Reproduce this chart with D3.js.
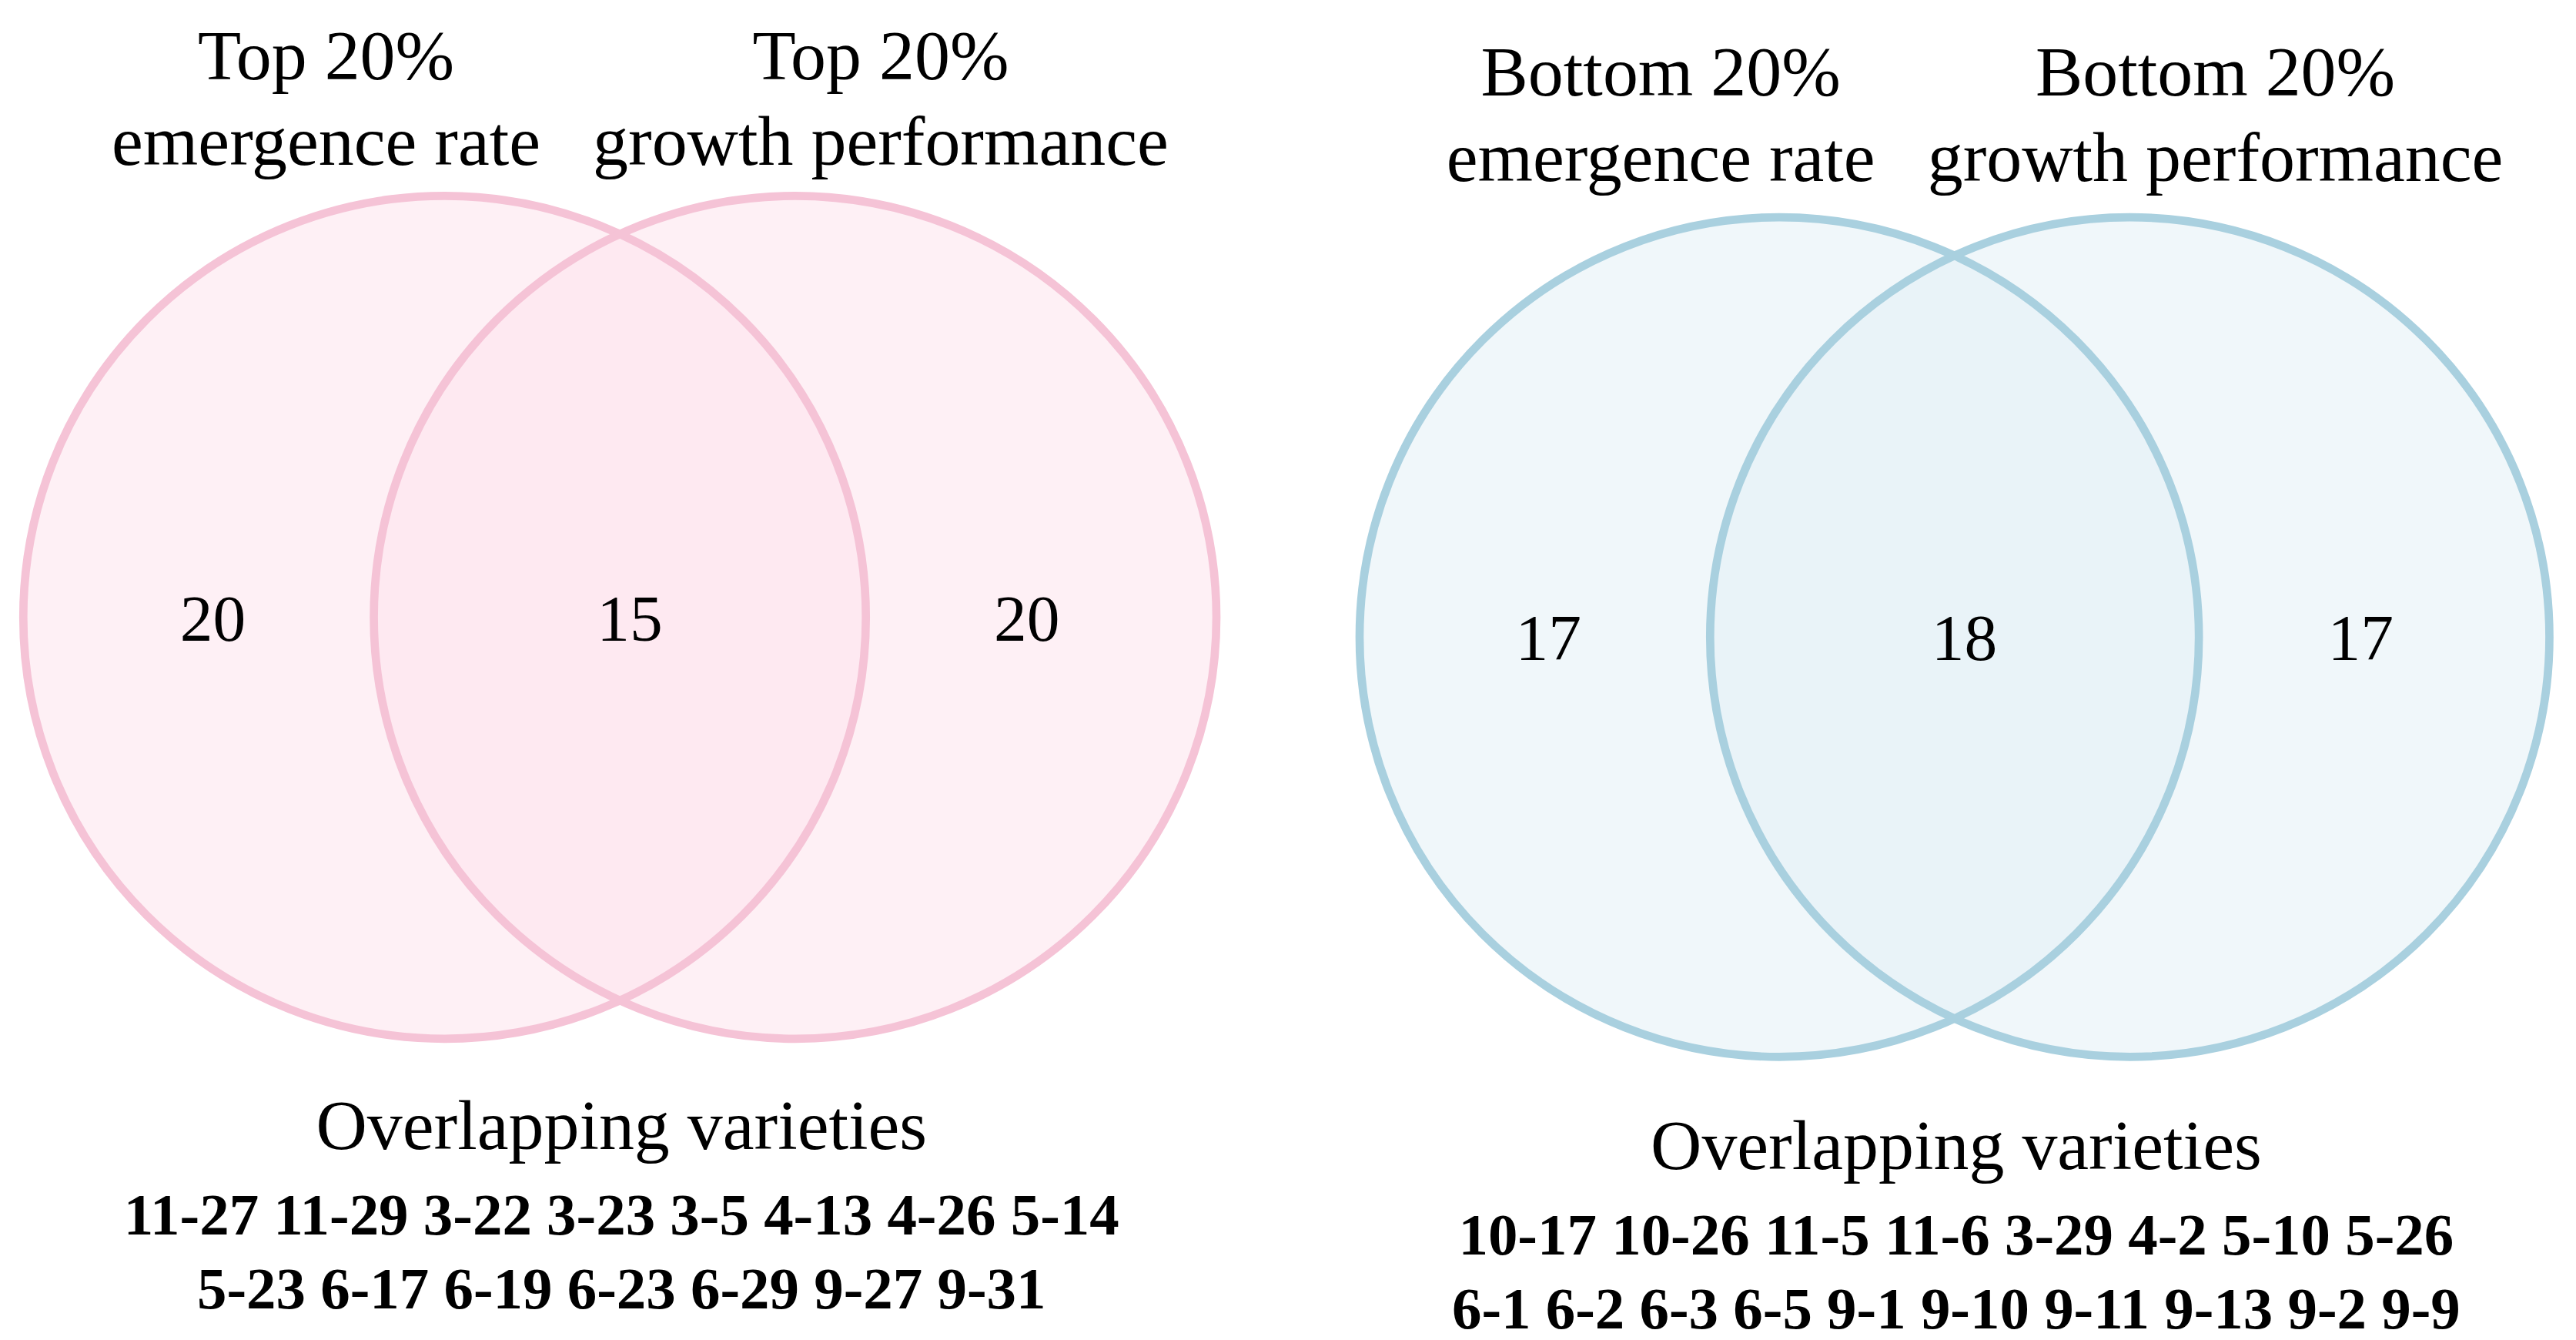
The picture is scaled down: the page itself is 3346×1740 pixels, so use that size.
<!DOCTYPE html>
<html><head><meta charset="utf-8">
<script src="https://cdn.jsdelivr.net/npm/d3@7"></script>
<style>body{margin:0;background:#fff}</style>
</head><body>
<script>
// data
var setLabels = [["Top 20%", "emergence rate"], ["Top 20%", "growth performance"],
                 ["Bottom 20%", "emergence rate"], ["Bottom 20%", "growth performance"]];
var topCounts = [20, 15, 20];
var bottomCounts = [17, 18, 17];
var topVarieties = [["11-27","11-29","3-22","3-23","3-5","4-13","4-26","5-14"],
                    ["5-23","6-17","6-19","6-23","6-29","9-27","9-31"]];
var bottomVarieties = [["10-17","10-26","11-5","11-6","3-29","4-2","5-10","5-26"],
                       ["6-1","6-2","6-3","6-5","9-1","9-10","9-11","9-13","9-2","9-9"]];

var svg = d3.select("body").append("svg")
  .attr("width", 3346).attr("height", 1740)
  .attr("viewBox", "0 0 1565 814");

var font = "'Liberation Serif','Times New Roman',serif";

function venn(cx0, cy, r, d, labels, counts, vars, stroke, fill, labY, ovY) {
  var g = svg.append("g");
  var x = d3.scaleLinear().domain([0, 1]).range([cx0, cx0 + d]);
  [0, 1].forEach(function (i) {
    g.append("circle").attr("cx", x(i)).attr("cy", cy).attr("r", r)
      .attr("fill", fill).attr("fill-opacity", 0.55);
  });
  [0, 1].forEach(function (i) {
    g.append("circle").attr("cx", x(i)).attr("cy", cy).attr("r", r)
      .attr("fill", "none").attr("stroke", stroke).attr("stroke-width", 5);
  });
  // counts: left only, overlap, right only
  var cxs = [x(0) - r * 0.55, x(0.5) + 6, x(1) + r * 0.55];
  counts.forEach(function (c, i) {
    g.append("text").attr("x", cxs[i]).attr("y", cy + 14)
      .attr("text-anchor", "middle").attr("font-family", font)
      .attr("font-size", 40).text(c);
  });
  // set labels
  var lx = [x(0) - 72, x(1) + 52];
  labels.forEach(function (lab, i) {
    lab.forEach(function (t, j) {
      g.append("text").attr("x", lx[i]).attr("y", labY + j * 52)
        .attr("text-anchor", "middle").attr("font-family", font)
        .attr("font-size", 43).text(t);
    });
  });
  var mid = x(0.5) + 1;
  g.append("text").attr("x", mid).attr("y", ovY)
    .attr("text-anchor", "middle").attr("font-family", font)
    .attr("font-size", 43).text("Overlapping varieties");
  vars.forEach(function (row, j) {
    g.append("text").attr("x", mid).attr("y", ovY + 52 + j * 45)
      .attr("text-anchor", "middle").attr("font-family", font)
      .attr("font-weight", "bold").attr("font-size", 36).text(row.join(" "));
  });
}

venn(270, 375, 256, 213, setLabels.slice(0, 2), topCounts, topVarieties,
     "#f5c3d6", "#fde3ec", 48, 698);
venn(1081, 387, 255, 213, setLabels.slice(2, 4), bottomCounts, bottomVarieties,
     "#a9d0df", "#e3f0f5", 58, 710);
</script>
</body></html>
